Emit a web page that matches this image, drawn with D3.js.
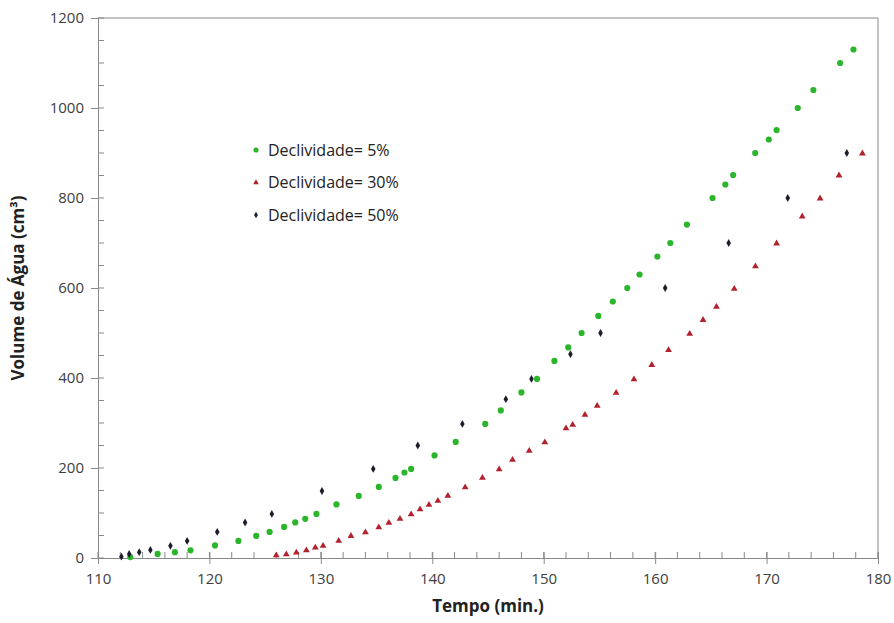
<!DOCTYPE html>
<html>
<head>
<meta charset="utf-8">
<script src="https://cdn.jsdelivr.net/npm/d3@7"></script>
<style>
  body { margin: 0; background: #fff; overflow: hidden; }
  svg { display: block; }
  text { font-family: "Open Sans", "Noto Sans", sans-serif; }
</style>
</head>
<body>
<svg width="894" height="623"></svg>
<script>
// Declividade 5%
let t5 = [112.9, 115.35, 116.9, 118.3, 120.5, 122.6, 124.2, 125.4, 126.7, 127.7, 128.6, 129.6,
  131.4, 133.4, 135.2, 136.7, 137.5, 138.1, 140.2, 142.1, 144.75, 146.15, 148.0, 149.4, 150.96,
  152.2, 153.4, 154.9, 156.2, 157.5, 158.6, 160.2, 161.36, 162.85, 165.15, 166.3, 167.0, 168.98,
  170.2, 170.9, 172.8, 174.2, 176.6, 177.8];
let v5 = [2, 9, 13, 17, 28, 38, 49, 58, 69, 79, 87, 98,
  119, 138, 158, 178, 190, 198, 228, 258, 298, 328, 368, 398, 438,
  468, 500, 538, 570, 600, 630, 670, 700, 741, 800, 830, 851, 900,
  930, 951, 1000, 1040, 1100, 1130];

// Declividade 30%
let t30 = [126.0, 126.9, 127.8, 128.7, 129.5, 130.2, 131.6, 132.7, 134.0, 135.2, 136.1, 137.1,
  138.1, 138.9, 139.7, 140.5, 141.4, 142.95, 144.5, 146.0, 147.2, 148.7, 150.1, 152.0, 152.6,
  153.7, 154.8, 156.5, 158.1, 159.7, 161.2, 163.1, 164.3, 165.5, 167.1, 169.0, 170.9, 173.2,
  174.8, 176.5, 178.6];
let v30 = [6, 8, 12, 17, 23, 27, 38, 49, 57, 68, 78, 87,
  97, 108, 118, 127, 138, 157, 178, 197, 218, 238, 257, 288, 296,
  318, 338, 367, 397, 429, 462, 498, 529, 558, 598, 648, 699, 759,
  799, 850, 899];

// Declividade 50%
let t50 = [112.1, 112.8, 113.7, 114.7, 116.5, 118.0, 120.7, 123.2, 125.6, 130.1, 134.7, 138.7,
  142.7, 146.6, 148.9, 152.4, 155.1, 160.9, 166.6, 171.9, 177.2];
let v50 = [3, 9, 13, 18, 27, 38, 58, 79, 98, 149, 198, 250,
  298, 353, 398, 453, 500, 600, 700, 800, 900];

let xTicks = [110, 120, 130, 140, 150, 160, 170, 180];
let yTicks = [0, 200, 400, 600, 800, 1000, 1200];
let seriesNames = ['Declividade= 5%', 'Declividade= 30%', 'Declividade= 50%'];

let svg = d3.select('svg');
let margin = {top: 18, right: 16, bottom: 65, left: 98};
let width = +svg.attr('width');
let height = +svg.attr('height');
let innerWidth = width - margin.left - margin.right;
let innerHeight = height - margin.top - margin.bottom;

let xScale = d3.scaleLinear().domain([110, 180]).range([0, innerWidth]);
let yScale = d3.scaleLinear().domain([0, 1200]).range([innerHeight, 0]);

let g = svg.append('g')
  .attr('transform', `translate(${margin.left},${margin.top})`);

let axisColor = '#8a8a8a';

// plot area border (top and right)
g.append('path')
  .attr('d', `M0,0H${innerWidth}V${innerHeight}`)
  .attr('fill', 'none')
  .attr('stroke', axisColor);

// minor ticks, drawn inside the plot
g.append('g').selectAll('line')
  .data(d3.range(0, 1201, 50))
  .enter().append('line')
  .attr('x1', 0).attr('x2', 6)
  .attr('y1', d => yScale(d)).attr('y2', d => yScale(d))
  .attr('stroke', axisColor);
g.append('g').selectAll('line')
  .data(d3.range(110, 181, 2))
  .enter().append('line')
  .attr('x1', d => xScale(d)).attr('x2', d => xScale(d))
  .attr('y1', innerHeight - 6).attr('y2', innerHeight)
  .attr('stroke', axisColor);

// major axes
let yAxis = g.append('g')
  .call(d3.axisLeft(yScale).tickValues(yTicks).tickSize(7).tickPadding(7).tickFormat(d3.format('d')));
let xAxis = g.append('g').attr('transform', `translate(0,${innerHeight})`)
  .call(d3.axisBottom(xScale).tickValues(xTicks).tickSize(6).tickPadding(9).tickFormat(d3.format('d')));
xAxis.selectAll('.tick line').attr('y1', -6);
[xAxis, yAxis].forEach(a => {
  a.select('.domain').attr('stroke', axisColor);
  a.selectAll('.tick line').attr('stroke', axisColor);
  a.selectAll('.tick text').attr('fill', '#404040').attr('font-size', 15)
    .attr('font-family', '"Open Sans", sans-serif');
});

// series
let series = [
  {t: t5, v: v5, type: d3.symbolCircle, size: 30, color: '#2bb52b'},
  {t: t30, v: v30, type: d3.symbolTriangle, size: 20, color: '#b3222c'},
  {t: t50, v: v50, type: d3.symbolDiamond, size: 18, color: '#1c1c2c'}
];

series.forEach(s => {
  g.append('g').selectAll('path')
    .data(d3.zip(s.t, s.v))
    .enter().append('path')
    .attr('d', d3.symbol().type(s.type).size(s.size))
    .attr('transform', d => `translate(${xScale(d[0])},${yScale(d[1])})`)
    .attr('fill', s.color);
});

// legend
let legend = svg.append('g').attr('transform', 'translate(256,150)');
series.forEach((s, i) => {
  legend.append('path')
    .attr('d', d3.symbol().type(s.type).size(s.size * 0.7))
    .attr('transform', `translate(0,${i * 32.5})`)
    .attr('fill', s.color);
  legend.append('text')
    .attr('x', 12)
    .attr('y', i * 32.5)
    .attr('dy', '0.35em')
    .attr('font-size', 16)
    .attr('fill', '#222')
    .text(seriesNames[i]);
});

// axis titles
svg.append('text')
  .attr('x', margin.left + innerWidth / 2)
  .attr('y', 612)
  .attr('text-anchor', 'middle')
  .attr('font-size', 17)
  .attr('font-weight', 'bold')
  .attr('fill', '#222')
  .text('Tempo (min.)');

svg.append('text')
  .attr('transform', `translate(24,${margin.top + innerHeight / 2}) rotate(-90)`)
  .attr('text-anchor', 'middle')
  .attr('font-size', 17)
  .attr('font-weight', 'bold')
  .attr('fill', '#222')
  .text('Volume de Água (cm³)');
</script>
</body>
</html>
